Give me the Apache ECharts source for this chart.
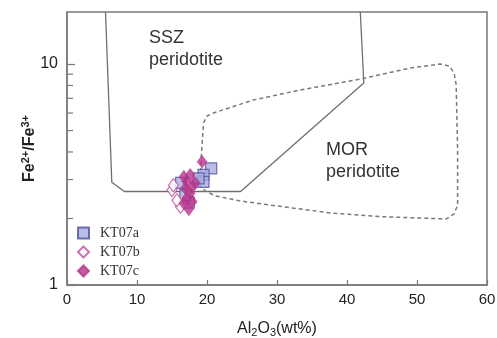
<!DOCTYPE html>
<html><head><meta charset="utf-8">
<script src="https://cdn.jsdelivr.net/npm/echarts@6/dist/echarts.min.js"></script>
<style>html,body{margin:0;padding:0;background:#fff}#c{width:497px;height:338px}</style>
</head><body><div id="c"></div>
<script>
// ---- data ----
const xTickLabels = [0, 10, 20, 30, 40, 50, 60];
const yMajorTicks = [1, 10];
const yMinorTicks = [2, 3, 4, 5, 6, 7, 8, 9];
const yMax = 17.2;

// SSZ field boundary (solid)
const sszX = [5.5, 6.4, 8.2, 24.8, 42.4, 41.9];
const sszY = [17.2, 2.92, 2.65, 2.65, 8.2, 17.2];

// MOR field boundary (dashed, closed)
const morX = [19.0, 19.2, 19.5, 20.0, 20.9, 26.6, 33.3, 41.9, 49.0, 53.3, 54.6, 55.3, 55.6, 55.8, 55.8, 55.3, 54.2, 44.8, 37.6, 29.0, 24.8, 21.2, 19.8, 19.0];
const morY = [2.81, 3.87, 5.41, 5.82, 6.00, 6.87, 7.63, 8.55, 9.59, 10.0, 9.79, 9.10, 8.03, 4.08, 2.30, 2.10, 1.99, 2.04, 2.12, 2.30, 2.40, 2.53, 2.66, 2.81];

// samples
const kt07aX = [20.6, 19.5, 19.5, 16.3, 17.4, 16.9, 18.8];
const kt07aY = [3.37, 3.15, 2.93, 2.90, 2.36, 2.55, 3.04];
const kt07bX = [15.0, 15.2, 16.2, 15.7];
const kt07bY = [2.69, 2.83, 2.26, 2.42];
const kt07cX = [19.3, 16.7, 17.6, 17.1, 17.9, 16.9, 17.6, 17.1, 17.9, 16.7, 18.3, 17.4];
const kt07cY = [3.61, 3.09, 3.15, 2.93, 2.78, 2.74, 2.60, 2.47, 2.38, 2.34, 2.90, 2.20];

const seriesNames = ['KT07a', 'KT07b', 'KT07c'];

// ---- build ----
const zip = (a, b) => a.map((v, i) => [v, b[i]]);
const FONT = '"Liberation Sans", Arial, sans-serif';
const chart = echarts.init(document.getElementById('c'), null, {renderer: 'canvas'});

chart.setOption({
  animation: false,
  backgroundColor: '#fff',
  grid: {left: 67, right: 10, top: 12, bottom: 53, containLabel: false, outerBoundsMode: 'none',
    show: true, borderColor: '#7a7a7a', borderWidth: 1.5, backgroundColor: 'transparent'},
  xAxis: {
    type: 'value', min: 0, max: 60, interval: 10,
    name: 'Al{sub|2}O{sub|3}(wt%)', nameLocation: 'middle', nameGap: 34, nameMoveOverlap: false,
    nameTextStyle: {fontFamily: FONT, fontSize: 16, color: '#222',
      rich: {sub: {fontFamily: FONT, fontSize: 11, color: '#222', padding: [8, 0, 0, 0]}}},
    axisLine: {lineStyle: {color: '#7a7a7a', width: 1.5}},
    axisTick: {inside: true, length: 5, lineStyle: {color: '#7a7a7a', width: 1.2}},
    axisLabel: {fontFamily: FONT, fontSize: 15, color: '#222', margin: 7,
      formatter: v => xTickLabels.indexOf(v) >= 0 ? String(v) : ''},
    splitLine: {show: false}
  },
  yAxis: {
    type: 'log', logBase: 10, min: 1, max: yMax,
    name: 'Fe{sup|2+}/Fe{sup|3+}', nameLocation: 'middle', nameGap: 27, nameMoveOverlap: false,
    nameTextStyle: {fontFamily: FONT, fontSize: 16, fontWeight: 'bold', color: '#222',
      rich: {sup: {fontFamily: FONT, fontSize: 11, fontWeight: 'bold', color: '#222', padding: [0, 0, 9, 0]}}},
    axisLine: {lineStyle: {color: '#7a7a7a', width: 1.5}},
    axisTick: {inside: true, length: 8, lineStyle: {color: '#7a7a7a', width: 1.2}},
    axisLabel: {fontFamily: FONT, fontSize: 16, color: '#222', margin: 9, showMaxLabel: false,
      formatter: v => (Math.abs(v - 1) < 1e-6 || Math.abs(v - 10) < 1e-6) ? String(Math.round(v)) : ''},
    splitLine: {show: false}
  },
  legend: {
    orient: 'vertical', left: 72, top: 221, itemGap: 5, itemWidth: 11, itemHeight: 11,
    data: seriesNames,
    textStyle: {fontFamily: '"Liberation Serif", "Times New Roman", serif', fontSize: 14, color: '#333', padding: [0, 0, 0, 6]}
  },
  graphic: [
    {type: 'text', left: 149, top: 27, style: {text: 'SSZ\nperidotite', font: '18px ' + FONT, fill: '#333', lineHeight: 22}},
    {type: 'text', left: 326, top: 139, style: {text: 'MOR\nperidotite', font: '18px ' + FONT, fill: '#333', lineHeight: 22}}
  ],
  series: [
    {type: 'line', name: 'SSZ', data: zip(sszX, sszY), symbol: 'none', silent: true, z: 1,
      lineStyle: {color: '#6e6e6e', width: 1.3}},
    {type: 'line', name: 'MOR', data: zip(morX, morY), symbol: 'none', silent: true, z: 1,
      lineStyle: {color: '#7a7a7a', width: 1.5, type: [4, 3]}},
    {type: 'custom', name: 'minorTicks', silent: true, z: 2,
      data: yMinorTicks.map(v => [0, v]),
      renderItem: (params, api) => {
        const p = api.coord([0, api.value(1)]);
        return {type: 'line', shape: {x1: p[0], y1: p[1], x2: p[0] + 6, y2: p[1]},
          style: {stroke: '#7a7a7a', lineWidth: 1.2}};
      }},
    {type: 'scatter', name: 'KT07a', data: zip(kt07aX, kt07aY), symbol: 'rect', symbolSize: 11, z: 3,
      itemStyle: {color: '#a9addf', borderColor: '#4d4f9e', borderWidth: 1.2}},
    {type: 'scatter', name: 'KT07b', data: zip(kt07bX, kt07bY), symbol: 'diamond', symbolSize: [10, 13], z: 4,
      itemStyle: {color: '#ffffff', borderColor: '#c2509c', borderWidth: 1.2}},
    {type: 'scatter', name: 'KT07c', data: zip(kt07cX, kt07cY), symbol: 'diamond', symbolSize: [10, 13], z: 5,
      itemStyle: {color: '#b53489', borderColor: '#b53489', borderWidth: 0.5}}
  ]
});
</script></body></html>
